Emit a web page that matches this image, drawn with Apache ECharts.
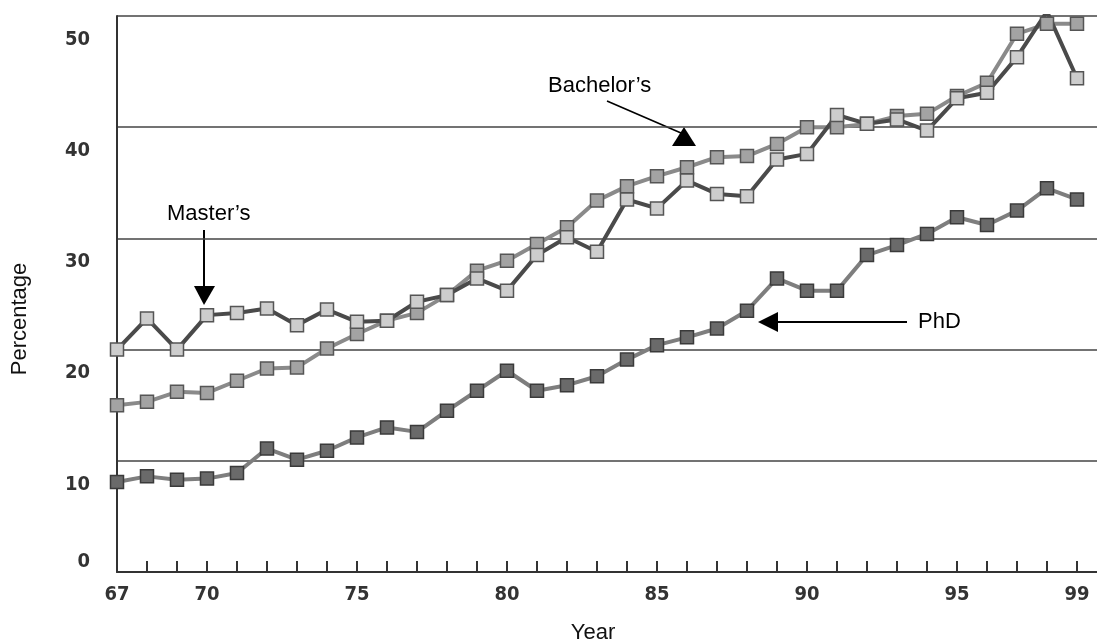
<!DOCTYPE html>
<html>
<head>
<meta charset="utf-8">
<script src="https://cdn.jsdelivr.net/npm/echarts@6/dist/echarts.min.js"></script>
<style>
  html, body { margin: 0; padding: 0; background: #ffffff; }
  #chart { width: 1097px; height: 641px; }
</style>
</head>
<body>
<div id="chart"></div>
<script>
// ---- data ----
const years = [67,68,69,70,71,72,73,74,75,76,77,78,79,80,81,82,83,84,85,86,87,88,89,90,91,92,93,94,95,96,97,98,99];
const xTickLabels = [67,70,75,80,85,90,95,99];
const yTickLabels = [0,10,20,30,40,50];
const masters   = [20.0,22.8,20.0,23.1,23.3,23.7,22.2,23.6,22.5,22.6,24.3,24.9,26.4,25.3,28.5,30.1,28.8,33.5,32.7,35.2,34.0,33.8,37.1,37.6,41.1,40.3,40.7,39.7,42.6,43.1,46.3,50.4,44.4];
const bachelors = [15.0,15.3,16.2,16.1,17.2,18.3,18.4,20.1,21.4,22.6,23.3,24.9,27.1,28.0,29.5,31.0,33.4,34.7,35.6,36.4,37.3,37.4,38.5,40.0,40.0,40.3,41.0,41.2,42.8,44.0,48.4,49.3,49.3];
const phd       = [8.1,8.6,8.3,8.4,8.9,11.1,10.1,10.9,12.1,13.0,12.6,14.5,16.3,18.1,16.3,16.8,17.6,19.1,20.4,21.1,21.9,23.5,26.4,25.3,25.3,28.5,29.4,30.4,31.9,31.2,32.5,34.5,33.5];

const pairs = arr => years.map((y, i) => [y, arr[i]]);

const chart = echarts.init(document.getElementById('chart'), null, { renderer: 'canvas' });

const tickFont = '"DejaVu Sans Condensed", "DejaVu Sans", sans-serif';
const textFont = '"Liberation Sans", Arial, sans-serif';

function seriesDef(name, arr, lineColor, fill, border) {
  return {
    name: name,
    type: 'line',
    data: pairs(arr),
    symbol: 'rect',
    symbolSize: 13,
    lineStyle: { color: lineColor, width: 4 },
    itemStyle: { color: fill, borderColor: border, borderWidth: 1.5 },
    emphasis: { disabled: true },
    animation: false
  };
}

chart.setOption({
  animation: false,
  backgroundColor: '#ffffff',
  grid: { left: 117, right: 0, top: 16, bottom: 69, containLabel: false, outerBoundsMode: 'none' },
  xAxis: {
    type: 'value',
    min: 67,
    max: 99 + 20 / 30,
    interval: 1,
    name: 'Year',
    nameLocation: 'middle',
    nameGap: 50,
    nameTextStyle: { fontFamily: textFont, fontSize: 22, color: '#111', padding: [0, 28, 0, 0] },
    axisLine: { show: true, lineStyle: { color: '#333', width: 2 } },
    axisTick: { show: true, inside: true, length: 11, customValues: years, lineStyle: { color: '#333', width: 2 } },
    axisLabel: {
      customValues: xTickLabels,
      margin: 13,
      fontFamily: tickFont,
      fontWeight: 'bold',
      fontSize: 20,
      color: '#333',
      formatter: v => String(v)
    },
    splitLine: { show: false }
  },
  yAxis: {
    type: 'value',
    min: 0,
    max: 50,
    interval: 10,
    name: 'Percentage',
    nameLocation: 'middle',
    nameRotate: 90,
    nameGap: 86,
    nameTextStyle: { fontFamily: textFont, fontSize: 22, color: '#111', padding: [0, 50, 0, 0] },
    axisLine: { show: true, lineStyle: { color: '#333', width: 2 } },
    axisTick: { show: false },
    splitLine: { show: true, lineStyle: { color: '#444', width: 1.5 } },
    axisLabel: {
      customValues: yTickLabels,
      margin: 27,
      fontFamily: tickFont,
      fontWeight: 'bold',
      fontSize: 20,
      color: '#333',
      formatter: v => (v === 0 ? '{z|0}' : '{n|' + v + '}'),
      rich: {
        n: { fontFamily: tickFont, fontWeight: 'bold', fontSize: 20, color: '#333', padding: [47, 0, 0, 0] },
        z: { fontFamily: tickFont, fontWeight: 'bold', fontSize: 20, color: '#333', padding: [0, 0, 20, 0] }
      }
    }
  },
  series: [
    seriesDef("Bachelor’s", bachelors, '#8a8a8a', '#a3a3a3', '#555'),
    seriesDef('PhD', phd, '#7e7e7e', '#6a6a6a', '#3a3a3a'),
    seriesDef("Master’s", masters, '#4a4a4a', '#cdcdcd', '#555')
  ],
  graphic: [
    { type: 'text', left: 548, top: 75, style: { text: 'Bachelor’s', font: '22px ' + textFont, fill: '#000' } },
    { type: 'line', shape: { x1: 607, y1: 101, x2: 681, y2: 133 }, style: { stroke: '#000', lineWidth: 1.5 } },
    { type: 'polygon', shape: { points: [[684, 127], [672, 146], [696, 146]] }, style: { fill: '#000' } },

    { type: 'text', left: 167, top: 203, style: { text: 'Master’s', font: '22px ' + textFont, fill: '#000' } },
    { type: 'line', shape: { x1: 204, y1: 230, x2: 204, y2: 288 }, style: { stroke: '#000', lineWidth: 2 } },
    { type: 'polygon', shape: { points: [[194, 286], [215, 286], [204, 305]] }, style: { fill: '#000' } },

    { type: 'text', left: 918, top: 311, style: { text: 'PhD', font: '22px ' + textFont, fill: '#000' } },
    { type: 'line', shape: { x1: 776, y1: 322, x2: 907, y2: 322 }, style: { stroke: '#000', lineWidth: 2 } },
    { type: 'polygon', shape: { points: [[758, 322], [778, 312], [778, 332]] }, style: { fill: '#000' } }
  ]
});
</script>
</body>
</html>
